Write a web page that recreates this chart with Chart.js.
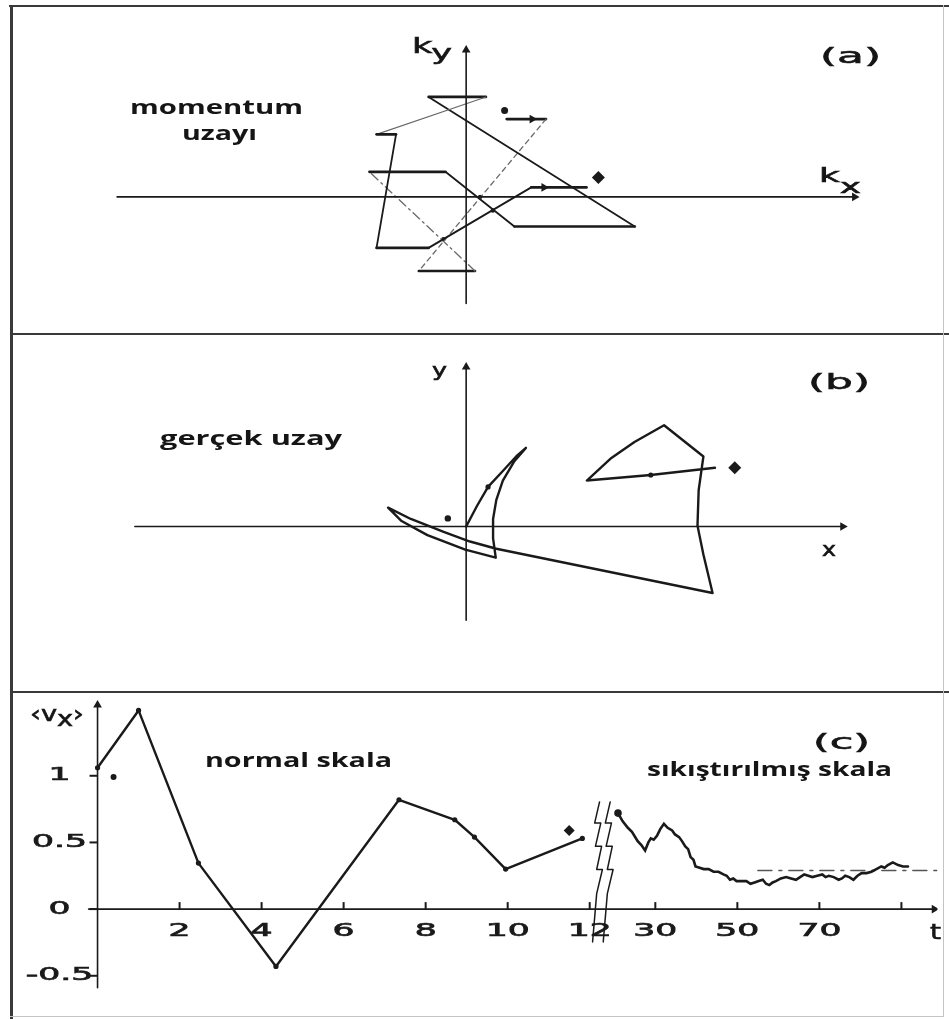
<!DOCTYPE html>
<html>
<head>
<meta charset="utf-8">
<script src="https://cdn.jsdelivr.net/npm/chart.js@4.4.0/dist/chart.umd.min.js"></script>
<style>
  body { margin: 0; background: #fff; }
  #fig { position: relative; width: 949px; height: 1019px; overflow: hidden; background: #fff; }
  #fig canvas { position: absolute; left: 11px; }
  .rule { position: absolute; background: #3a3a3a; z-index: 2; }
  .lbl { position: absolute; white-space: nowrap; transform-origin: 0 0; color: #151515; line-height: 1; z-index: 3; }
  .ann { font-family: 'Open Sans', sans-serif; font-weight: 700; }
  .fig { font-family: 'DejaVu Sans', sans-serif; font-weight: normal; -webkit-text-stroke: 0.6px #151515; }
  .sub { position: relative; }
</style>
</head>
<body>
<div id="fig">
  <canvas id="chartA" width="932" height="328" style="top:6px"></canvas>
  <canvas id="chartB" width="932" height="358" style="top:334px"></canvas>
  <canvas id="chartC" width="932" height="325" style="top:692px"></canvas>

  <!-- çerçeve -->
  <div class="rule" style="left:9px;top:5px;width:940px;height:2px"></div>
  <div class="rule" style="left:10px;top:5px;width:3px;height:1014px"></div>
  <div class="rule" style="left:10px;top:333px;width:939px;height:2px"></div>
  <div class="rule" style="left:10px;top:691px;width:939px;height:2px"></div>
  <div class="rule" style="left:943px;top:5px;width:1px;height:1012px;background:#c4c4c4"></div>
  <div class="rule" style="left:10px;top:1016px;width:934px;height:1px;background:#c4c4c4"></div>

  <!-- (a) -->
  <div class="lbl ann" data-w="173" style="left:130px;top:97px;font-size:20px">momentum</div>
  <div class="lbl ann" data-w="75" style="left:182px;top:123px;font-size:20px">uzayı</div>
  <div class="lbl fig" data-w="61" style="left:820px;top:45px;font-size:22px">(a)</div>
  <div class="lbl fig" data-w="40" style="left:412px;top:35px;font-size:22px">k<span class="sub" style="top:7px">y</span></div>
  <div class="lbl fig" data-w="42" style="left:819px;top:165px;font-size:20px">k<span class="sub" style="top:11px">x</span></div>

  <!-- (b) -->
  <div class="lbl ann" data-w="182" style="left:160px;top:428px;font-size:20px">gerçek uzay</div>
  <div class="lbl fig" data-w="62" style="left:808px;top:371px;font-size:22px">(b)</div>
  <div class="lbl fig" data-w="15" style="left:432px;top:361px;font-size:18px">y</div>
  <div class="lbl fig" data-w="14" style="left:822px;top:540px;font-size:19px">x</div>

  <!-- (c) -->
  <div class="lbl ann" data-w="187" style="left:205px;top:750px;font-size:20px">normal skala</div>
  <div class="lbl ann" data-w="245" style="left:647px;top:759px;font-size:20px">sıkıştırılmış skala</div>
  <div class="lbl fig" data-w="57" style="left:813px;top:731px;font-size:22px">(c)</div>
  <div class="lbl fig" data-w="54" style="left:30px;top:704px;font-size:21px">‹v<span class="sub" style="top:5px">x</span>›</div>
  <div class="lbl fig" data-w="11" style="left:930px;top:921px;font-size:22px">t</div>
</div>

<script>
// (a) momentum uzayı: yol noktaları
const kx = [1.37, 2.70, -1.60, 0.30, -3.27, -0.70, 1.63, 5.70, -1.27, 0.67, -3.03, -2.37, -3.03, -1.27, 2.20, 4.07];
const ky = [2.70, 2.70, -2.57, -2.57, 0.87, 0.87, -1.03, -1.03, 3.47, 3.47, 2.17, 2.17, -1.77, -1.77, 0.33, 0.33];
const kStart = [1.30, 3.00];
const kEnd = [4.47, 0.67];
const kArrowX = [2.23, 2.63];
const kArrowY = [2.70, 0.33];
const kDotX = [0.47, 0.90, -0.77];
const kDotY = [0.00, -0.47, -1.47];

// (b) gerçek uzay: yörünge
const rx = [0, 0.36, 0.74, 1.24, 1.69, 2.02, 1.63, 1.24, 1.02, 0.91, 0.91, 1.00, -0.03, -1.31, -2.20, -2.64,
            -1.87, -0.76, 0.13, 1.02, 8.33, 8.02, 7.82, 7.86, 8.02, 6.69, 5.69, 4.91, 4.08, 6.24, 8.41];
const ry = [0, 0.70, 1.37, 1.92, 2.42, 2.72, 2.26, 1.59, 0.92, 0.26, -0.41, -1.08, -0.80, -0.30, 0.20, 0.65,
            0.26, -0.19, -0.52, -0.77, -2.30, -0.97, 0.03, 1.26, 2.42, 3.50, 2.92, 2.37, 1.59, 1.78, 2.03];
const rStart = [-0.62, 0.28];
const rEnd = [9.08, 2.03];
const rDotX = [0.74, 6.24];
const rDotY = [1.37, 1.78];

// (c) <vx> - t
const tNormal = [0, 1, 2.46, 4.35, 7.35, 8.71, 9.19, 9.95, 11.82];
const vNormal = [1.06, 1.49, 0.345, -0.43, 0.82, 0.67, 0.54, 0.30, 0.53];
const tLong = [20.9, 22.0, 23.3, 24.3, 25.7, 26.6, 27.5, 28.3, 28.9, 29.6, 30.4, 31.2, 32.1, 33.0, 34.1, 34.8,
               35.8, 36.5, 37.3, 38.0, 38.6, 39.3, 39.8, 40.8, 41.8, 43.0, 44.2, 45.4, 46.6, 47.4, 48.2, 49.0,
               49.8, 51.0, 52.2, 53.2, 54.2, 55.2, 56.2, 57.0, 57.8, 58.6, 59.4, 60.6, 61.9, 63.1, 64.3, 65.3,
               66.3, 67.3, 68.3, 69.5, 70.7, 71.5, 72.3, 73.5, 74.7, 75.5, 76.3, 77.3, 78.3, 79.3, 80.3, 81.5,
               82.7, 83.9, 85.1, 85.9, 86.7, 87.9, 89.2, 90.4, 91.6];
const vLong = [0.72, 0.66, 0.61, 0.58, 0.51, 0.48, 0.44, 0.50, 0.53, 0.52, 0.55, 0.60, 0.64, 0.61, 0.59, 0.56,
               0.54, 0.51, 0.47, 0.45, 0.39, 0.37, 0.32, 0.31, 0.30, 0.30, 0.28, 0.28, 0.26, 0.25, 0.22, 0.23,
               0.21, 0.21, 0.21, 0.19, 0.20, 0.21, 0.22, 0.19, 0.18, 0.20, 0.21, 0.23, 0.24, 0.23, 0.22, 0.24,
               0.26, 0.25, 0.24, 0.25, 0.26, 0.24, 0.25, 0.24, 0.22, 0.23, 0.25, 0.24, 0.22, 0.25, 0.27, 0.27,
               0.28, 0.30, 0.32, 0.31, 0.33, 0.35, 0.33, 0.32, 0.32];
const vLimit = 0.29;
const tLimit = [55, 100];
const cStart = [0.39, 0.99];
const cEnd = [11.5, 0.59];
const tTicks = [2, 4, 6, 8, 10, 12, 30, 50, 70, 90];
const tTickLabels = ['2', '4', '6', '8', '10', '12', '30', '50', '70', ''];
const vTicks = [1, 0.5, 0, -0.5];
const vTickLabels = ['1', '0.5', '0', '-0.5'];
// kırılma işareti (eksen biriminde)
const breakY = [0.804, 0.645, 0.645, 0.471, 0.471, 0.297, 0.297, 0.116, -0.246];
const breakLeftX = [12.24, 12.12, 12.27, 12.14, 12.29, 12.17, 12.31, 12.17, 12.07];
const breakRightX = [12.50, 12.38, 12.53, 12.40, 12.55, 12.43, 12.57, 12.43, 12.33];

const INK = '#1a1a1a';

// sıkıştırılmış skala: t > 12 için t/10 kaydırılır
function toAxis(t) {
    return t <= 12 ? t : 10.6 + t / 10;
}

function pts(xs, ys) {
    return xs.map((x, i) => ({ x: x, y: ys[i] }));
}

function axisLine(x1, y1, x2, y2, rot) {
    return {
        data: [{ x: x1, y: y1 }, { x: x2, y: y2 }],
        showLine: true,
        borderColor: INK,
        borderWidth: 1.6,
        pointRadius: [0, 5],
        pointStyle: 'triangle',
        rotation: rot,
        pointBackgroundColor: INK,
        pointBorderWidth: 0
    };
}

function marks(data, style, radius, rot) {
    return {
        data: data,
        showLine: false,
        pointStyle: style,
        pointRadius: radius,
        rotation: rot || 0,
        pointBackgroundColor: INK,
        pointBorderColor: INK,
        pointBorderWidth: 0
    };
}

function makeChart(id, datasets, xr, yr, plugins) {
    return new Chart(document.getElementById(id), {
        type: 'scatter',
        data: { datasets: datasets },
        options: {
            responsive: false,
            animation: false,
            devicePixelRatio: 1,
            layout: { padding: 0 },
            plugins: { legend: { display: false }, tooltip: { enabled: false } },
            elements: { line: { tension: 0, borderCapStyle: 'round', borderJoinStyle: 'round' } },
            scales: {
                x: { type: 'linear', display: false, min: xr[0], max: xr[1] },
                y: { type: 'linear', display: false, min: yr[0], max: yr[1] }
            }
        },
        plugins: plugins || []
    });
}

// (a)
const kSegKind = ['h', 'dash', 'h', 'dashdot', 'h', 'd', 'h', 'd', 'h', 'thin', 'h', 'd', 'h', 'd', 'h'];
const segWidth = { h: 2.6, d: 1.8, thin: 1.1, dash: 1.3, dashdot: 1.3 };
makeChart('chartA', [
    axisLine(-11.8, 0, 13.13, 0, 90),
    axisLine(0, -3.7, 0, 5.1, 0),
    {
        data: pts(kx, ky),
        showLine: true,
        pointRadius: 0,
        borderColor: INK,
        borderWidth: 2,
        segment: {
            borderWidth: c => segWidth[kSegKind[c.p0DataIndex]],
            borderColor: c => ['dash', 'dashdot', 'thin'].includes(kSegKind[c.p0DataIndex]) ? '#6a6a6a' : INK,
            borderDash: c => kSegKind[c.p0DataIndex] === 'dash' ? [5, 4]
                : kSegKind[c.p0DataIndex] === 'dashdot' ? [9, 4, 2, 4] : []
        }
    },
    marks(pts(kArrowX, kArrowY), 'triangle', 5, 90),
    marks(pts(kDotX, kDotY), 'circle', 2.2),
    marks([{ x: kStart[0], y: kStart[1] }], 'circle', 3.5),
    marks([{ x: kEnd[0], y: kEnd[1] }], 'rectRot', 6.5)
], [-15.167, 15.9], [-4.533, 6.4]);

// (b)
makeChart('chartB', [
    axisLine(-11.2, 0, 12.73, 0, 90),
    axisLine(0, -3.24, 0, 5.52, 0),
    {
        data: pts(rx, ry),
        showLine: true,
        pointRadius: 0,
        borderColor: INK,
        borderWidth: 2.4
    },
    marks(pts(rDotX, rDotY), 'circle', 2.6),
    marks([{ x: rStart[0], y: rStart[1] }], 'circle', 3.2),
    marks([{ x: rEnd[0], y: rEnd[1] }], 'rectRot', 6.5)
], [-15.167, 15.9], [-5.5, 6.433]);

// (c) eksen işaretleri ve etiketleri
const cTicks = {
    id: 'cTicks',
    afterDatasetsDraw(chart) {
        const { ctx, scales: { x, y } } = chart;
        const x0 = x.getPixelForValue(0);
        const y0 = y.getPixelForValue(0);
        ctx.save();
        ctx.strokeStyle = INK;
        ctx.fillStyle = INK;
        ctx.lineWidth = 2;
        ctx.font = '18px "DejaVu Sans"';
        const sx = 55 / ctx.measureText('0.5').width;
        const label = (txt, px, py) => {
            ctx.save();
            ctx.translate(px, py);
            ctx.scale(sx, 1);
            ctx.textAlign = 'center';
            ctx.textBaseline = 'middle';
            ctx.lineWidth = 0.7;
            ctx.fillText(txt, 0, 0);
            ctx.strokeText(txt, 0, 0);
            ctx.restore();
        };
        tTicks.forEach((t, i) => {
            const px = x.getPixelForValue(toAxis(t));
            ctx.beginPath();
            ctx.moveTo(px, y0);
            ctx.lineTo(px, y0 - 7);
            ctx.stroke();
            if (tTickLabels[i]) label(tTickLabels[i], px, y0 + 22);
        });
        vTicks.forEach((v, i) => {
            const py = y.getPixelForValue(v);
            ctx.beginPath();
            ctx.moveTo(x0 - 8, py);
            ctx.lineTo(x0, py);
            ctx.stroke();
            label(vTickLabels[i], x0 - 38, py);
        });
        ctx.restore();
    }
};

makeChart('chartC', [
    axisLine(-0.217, 0, 20.4, 0, 90),
    axisLine(0, -0.59, 0, 1.53, 0),
    {
        data: pts(tNormal, vNormal),
        showLine: true,
        borderColor: INK,
        borderWidth: 2.4,
        pointRadius: 2.6,
        pointBackgroundColor: INK,
        pointBorderWidth: 0
    },
    {
        data: pts(tLong.map(toAxis), vLong),
        showLine: true,
        borderColor: INK,
        borderWidth: 2.6,
        borderJoinStyle: 'miter',
        pointRadius: tLong.map((t, i) => i === 0 ? 3.8 : 0),
        pointBackgroundColor: INK,
        pointBorderWidth: 0
    },
    {
        data: pts(tLimit.map(toAxis), [vLimit, vLimit]),
        showLine: true,
        pointRadius: 0,
        borderColor: '#555',
        borderWidth: 1.5,
        borderDash: [14, 7, 3, 7]
    },
    {
        data: pts(breakLeftX, breakY),
        showLine: true,
        pointRadius: 0,
        borderColor: INK,
        borderWidth: 1.5
    },
    {
        data: pts(breakRightX, breakY),
        showLine: true,
        pointRadius: 0,
        borderColor: INK,
        borderWidth: 1.5
    },
    marks([{ x: cStart[0], y: cStart[1] }], 'circle', 3),
    marks([{ x: cEnd[0], y: cEnd[1] }], 'rectRot', 5.5)
], [-1.976, 20.48], [-0.768, 1.587], [cTicks]);

// etiket genişliklerini resimdekine uydur
function fitLabels() {
    document.querySelectorAll('.lbl[data-w]').forEach(el => {
        el.style.transform = 'none';
        const w = el.getBoundingClientRect().width;
        if (w > 0) el.style.transform = 'scaleX(' + (Number(el.dataset.w) / w) + ')';
    });
}
fitLabels();
if (document.fonts && document.fonts.ready) document.fonts.ready.then(fitLabels);
</script>
</body>
</html>
